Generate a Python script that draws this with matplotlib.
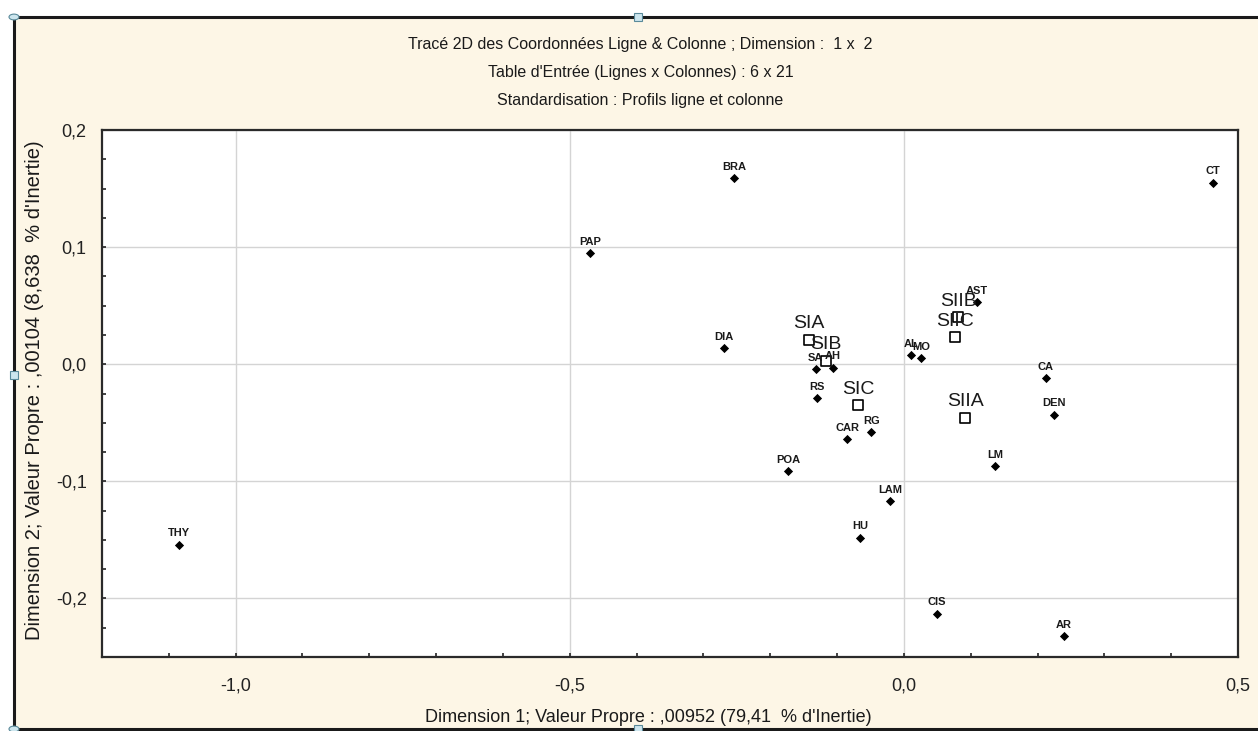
import matplotlib
matplotlib.use("Agg")
import matplotlib.pyplot as plt
from matplotlib.patches import Rectangle, Circle
from matplotlib.ticker import FixedLocator, FuncFormatter

plt.rcParams['font.family'] = ['Liberation Sans', 'DejaVu Sans']

# Column points (species)
col_labels = ["CT", "BRA", "PAP", "DIA", "THY", "POA", "AST", "SA", "AH", "AL",
              "MO", "RS", "CAR", "RG", "DEN", "LM", "LAM", "HU", "CIS", "AR", "CA"]
col_x = [0.463, -0.254, -0.469, -0.269, -1.085, -0.173, 0.109, -0.132, -0.106, 0.011,
         0.026, -0.130, -0.085, -0.049, 0.224, 0.137, -0.021, -0.066, 0.049, 0.239, 0.212]
col_y = [0.155, 0.159, 0.095, 0.014, -0.154, -0.091, 0.053, -0.004, -0.003, 0.008,
         0.005, -0.029, -0.064, -0.058, -0.043, -0.087, -0.117, -0.148, -0.213, -0.232, -0.012]

# Row points (sites)
row_labels = ["SIA", "SIB", "SIC", "SIIA", "SIIB", "SIIC"]
row_x = [-0.142, -0.117, -0.068, 0.092, 0.081, 0.077]
row_y = [0.021, 0.003, -0.035, -0.046, 0.040, 0.023]

title_lines = ["Tracé 2D des Coordonnées Ligne & Colonne ; Dimension :  1 x  2",
               "Table d'Entrée (Lignes x Colonnes) : 6 x 21",
               "Standardisation : Profils ligne et colonne"]
xlabel = "Dimension 1; Valeur Propre : ,00952 (79,41  % d'Inertie)"
ylabel = "Dimension 2; Valeur Propre : ,00104 (8,638  % d'Inertie)"

W, H = 1258, 731
fig = plt.figure(figsize=(W / 100, H / 100), dpi=100)
fig.patch.set_facecolor("white")

# Cream panel with its frame
cream = "#fdf6e6"
panel = Rectangle((14 / W, 1 - 729 / H), (W + 10) / W, (729 - 17) / H,
                  transform=fig.transFigure, facecolor=cream, edgecolor="#1a1a1a",
                  linewidth=2.2, zorder=0)
fig.patches.append(panel)
for (px, py) in [(14, 17), (14, 729)]:
    fig.patches.append(Circle((px / W, 1 - py / H), 5 / W, transform=fig.transFigure,
                              facecolor="#cde6ee", edgecolor="#5a8a9a", lw=0.8, zorder=5))
for (px, py) in [(638, 17), (14, 375), (638, 729)]:
    fig.patches.append(Rectangle(((px - 4) / W, 1 - (py + 4) / H), 8 / W, 8 / H,
                                 transform=fig.transFigure, facecolor="#cde6ee",
                                 edgecolor="#5a8a9a", lw=0.8, zorder=5))

ax = fig.add_axes([102 / W, 1 - 657 / H, (1238 - 102) / W, (657 - 130) / H])
ax.set_facecolor("white")
ax.set_xlim(-1.2, 0.5)
ax.set_ylim(-0.25, 0.2)

ax.xaxis.set_major_locator(FixedLocator([-1.0, -0.5, 0.0, 0.5]))
ax.xaxis.set_minor_locator(FixedLocator([-1.2 + 0.1 * i for i in range(18)]))
ax.yaxis.set_major_locator(FixedLocator([-0.2, -0.1, 0.0, 0.1, 0.2]))
ax.yaxis.set_minor_locator(FixedLocator([-0.25 + 0.025 * i for i in range(19)]))
fmt = FuncFormatter(lambda v, p: f"{v:.1f}".replace(".", ",").replace("-0,0", "0,0"))
ax.xaxis.set_major_formatter(fmt)
ax.yaxis.set_major_formatter(fmt)
ax.tick_params(which="both", direction="in", length=3, width=1.2, color="#222222",
               labelsize=13, labelcolor="#222222")
ax.tick_params(axis="x", which="major", pad=15)
ax.tick_params(axis="y", which="major", pad=11)
ax.grid(True, which="major", color="#d4d4d4", linewidth=1.0)
ax.set_axisbelow(True)
for s in ax.spines.values():
    s.set_linewidth(1.6)
    s.set_color("#2a2a2a")

# Ticks on the opposite spines use their own spacing
top = ax.twiny()
top.set_xlim(0, 22)
top.set_xticks(range(1, 22))
top.tick_params(axis="x", direction="in", length=3, width=1.2, labeltop=False)
right = ax.twinx()
right.set_ylim(0, 20)
right.set_yticks(range(1, 20))
right.tick_params(axis="y", direction="in", length=3, width=1.2, labelright=False)
for a in (top, right):
    for s in a.spines.values():
        s.set_visible(False)

ax.set_zorder(right.get_zorder() + 1)
ax.patch.set_visible(True)

ax.scatter(col_x, col_y, marker="D", s=22, color="black", zorder=3, linewidths=0)
for lab, x, y in zip(col_labels, col_x, col_y):
    ax.annotate(lab, (x, y), xytext=(0, 4.5), textcoords="offset points",
                ha="center", va="bottom", fontsize=8, fontweight="bold",
                color="#1a1a1a", zorder=4)

ax.scatter(row_x, row_y, marker="s", s=55, facecolor="white", edgecolor="black",
           linewidths=1.2, zorder=3)
for lab, x, y in zip(row_labels, row_x, row_y):
    ax.annotate(lab, (x, y), xytext=(0, 5.5), textcoords="offset points",
                ha="center", va="bottom", fontsize=14, color="#1a1a1a", zorder=4)

for i, line in enumerate(title_lines):
    fig.text(0.509, 1 - (44 + 28.5 * i) / H, line, ha="center", va="center",
             fontsize=11.5, color="#1a1a1a")
fig.text(0.515, 1 - 717 / H, xlabel, ha="center", va="center", fontsize=13,
         color="#1a1a1a")
fig.text(35 / W, 1 - 390 / H, ylabel, ha="center", va="center", rotation=90,
         fontsize=14.5, color="#1a1a1a")

fig.savefig("out.png", dpi=100, facecolor=fig.get_facecolor())
